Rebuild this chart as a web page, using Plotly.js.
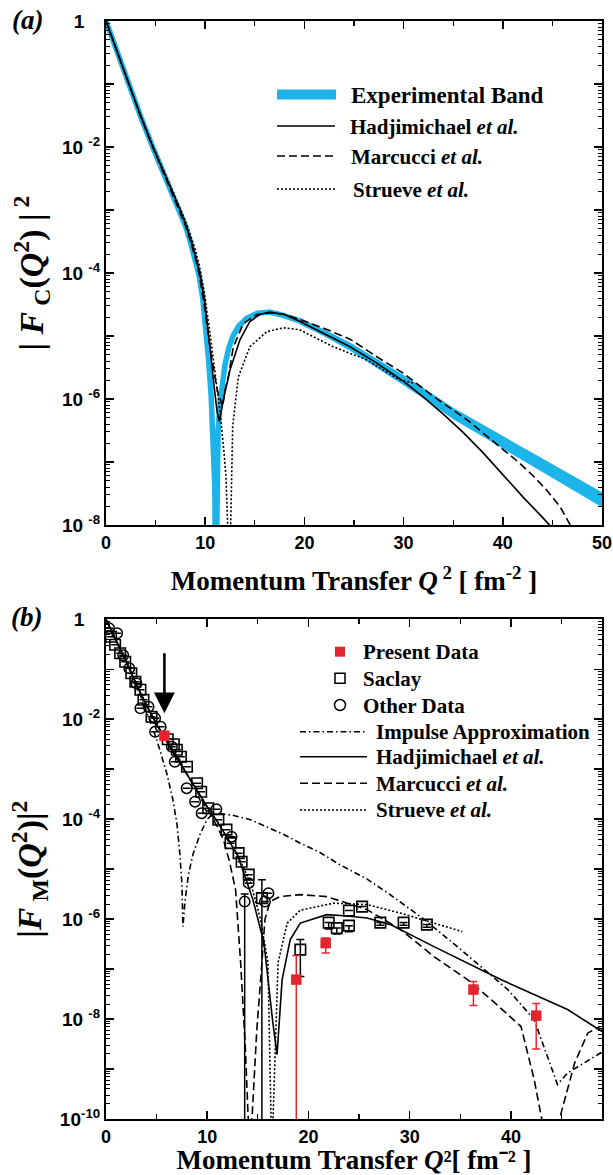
<!DOCTYPE html>
<html>
<head>
<meta charset="utf-8">
<script src="https://cdn.plot.ly/plotly-3.0.1.min.js"></script>
<style>
  html, body { margin: 0; padding: 0; background: #fff; }
  #chart { width: 613px; height: 1175px; }
</style>
</head>
<body>
<div id="chart"></div>
<script>
// ---------------- Panel (a): charge form factor ----------------
const bandX = [0, 0.5, 1.1, 2.3, 3.5, 4.7, 6.0, 7.4, 8.0, 8.5, 9.0, 9.4, 9.75, 10.1, 10.35, 10.6, 10.82, 10.97, 11.05, 11.13, 11.3, 11.5, 11.75, 12.0, 12.4, 12.8, 13.4, 14.2, 15.2, 16.5, 17.8, 19.5, 22.0, 24.6, 27.3, 30.0, 32.5, 35.0, 37.4, 39.7, 42.2, 44.8, 47.4, 50];
const bandY = [1, 0.603, 0.331, 0.1, 0.0302, 0.01, 3.31e-3, 1e-3, 5.62e-4, 3.16e-4, 1.66e-4, 8.91e-5, 3.98e-5, 1.26e-5, 3.98e-6, 1.12e-6, 2.51e-7, 3.98e-8, 3.16e-10, 3.98e-8, 3.16e-7, 8.91e-7, 2e-6, 3.55e-6, 6.61e-6, 1e-5, 1.45e-5, 1.91e-5, 2.29e-5, 2.4e-5, 2.14e-5, 1.74e-5, 1.12e-5, 6.76e-6, 3.72e-6, 2e-6, 1.1e-6, 5.89e-7, 3.55e-7, 2.19e-7, 1.29e-7, 7.41e-8, 4.37e-8, 2.51e-8];
const bandEdgeX = [19.5, 22.0, 24.6, 27.3, 30.0, 32.5, 35.0, 37.4, 39.7, 42.2, 44.8, 47.4, 50];
const bandUpper = [1.95e-5, 1.27e-5, 7.85e-6, 4.39e-6, 2.4e-6, 1.33e-6, 7.24e-7, 4.42e-7, 2.75e-7, 1.64e-7, 9.55e-8, 5.69e-8, 3.31e-8];
const bandLower = [1.55e-5, 9.89e-6, 5.82e-6, 3.15e-6, 1.66e-6, 9.02e-7, 4.79e-7, 2.85e-7, 1.74e-7, 1.01e-7, 5.75e-8, 3.35e-8, 1.91e-8];

const hadjTopX = [0, 0.5, 1.1, 2.3, 3.5, 4.7, 6.0, 7.4, 8.0, 8.5, 9.0, 9.4, 9.9, 10.4, 10.9, 11.2, 11.42, 11.82, 12.5, 13.5, 14.5, 15.5, 16.5, 18.0, 19.56, 22.0, 24.6, 27.3, 30.0, 32.0, 34.0, 36.0, 38.0, 40.0, 42.0, 44.0, 45.0, 46.0];
const hadjTopY = [1, 0.603, 0.331, 0.1, 0.0309, 0.0102, 3.47e-3, 1.07e-3, 6.03e-4, 3.55e-4, 1.91e-4, 1.07e-4, 3.98e-5, 8.91e-6, 1.58e-6, 6.31e-7, 4.37e-7, 9.55e-7, 2.88e-6, 8.71e-6, 1.7e-5, 2.19e-5, 2.4e-5, 2.19e-5, 1.7e-5, 1.1e-5, 6.76e-6, 3.72e-6, 1.91e-6, 1.07e-6, 5.75e-7, 2.95e-7, 1.41e-7, 6.31e-8, 2.82e-8, 1.32e-8, 8.91e-9, 5.62e-9];

const marcTopX = [0, 0.5, 1.1, 2.3, 3.5, 4.7, 6.0, 7.4, 8.0, 8.5, 9.0, 9.4, 9.9, 10.4, 10.9, 11.2, 11.5, 11.76, 12.0, 12.33, 12.84, 13.85, 15.19, 16.53, 18.0, 19.56, 22.0, 24.6, 27.3, 29.97, 33.0, 36.4, 39.7, 41.5, 43.0, 44.5, 45.77, 46.8, 47.5];
const marcTopY = [1, 0.603, 0.331, 0.1, 0.0302, 0.01, 3.31e-3, 1e-3, 5.75e-4, 3.24e-4, 1.74e-4, 9.55e-5, 3.16e-5, 7.94e-6, 2.51e-6, 1.41e-6, 1e-6, 7.59e-7, 1.41e-6, 2.24e-6, 6.76e-6, 1.58e-5, 2.19e-5, 2.34e-5, 2.19e-5, 1.82e-5, 1.32e-5, 8.91e-6, 4.68e-6, 2.57e-6, 1.1e-6, 4.68e-7, 1.74e-7, 1.02e-7, 6.17e-8, 3.47e-8, 1.95e-8, 1e-8, 5.62e-9];

const struTopX = [0, 0.5, 1.1, 2.3, 3.5, 4.7, 6.0, 7.4, 8.0, 8.5, 9.0, 9.4, 9.9, 10.48, 11.0, 11.49, 11.9, 12.1, 12.26, 12.4, 12.57, 12.77, 13.34, 14.51, 16.2, 17.88, 19.5, 22.9, 26.3, 29.6, 31.1];
const struTopY = [1, 0.603, 0.331, 0.1, 0.0316, 0.0107, 3.63e-3, 1.15e-3, 6.76e-4, 4.07e-4, 2.34e-4, 1.35e-4, 5.01e-5, 1.12e-5, 2.82e-6, 6.31e-7, 1.41e-7, 5.62e-8, 1e-8, 1e-10, 1e-8, 3.63e-7, 2.24e-6, 6.76e-6, 1.17e-5, 1.35e-5, 1.26e-5, 6.76e-6, 4.17e-6, 2e-6, 1.78e-6];

// ---------------- Panel (b): magnetic form factor ----------------
const iaX = [0, 1, 2, 3, 4, 5, 6, 6.6, 7.0, 7.3, 7.5, 7.6, 7.8, 8.15, 8.6, 9.3, 10.0, 10.5, 11.2, 12.5, 14.26, 15.9, 17.5, 19.2, 21, 23, 25.8, 28, 31.4, 34.7, 37.7, 39.7, 42.3, 44.6, 45.6, 49];
const iaY = [1, 0.398, 0.151, 0.0501, 0.0141, 3.98e-3, 8.32e-4, 2.51e-4, 8.32e-5, 2e-5, 5.01e-6, 7.08e-7, 2.24e-6, 7.94e-6, 2e-5, 5.01e-5, 1e-4, 1.23e-4, 1.29e-4, 1.2e-4, 9.77e-5, 7.08e-5, 5.01e-5, 3.31e-5, 2.24e-5, 1.26e-5, 6.31e-6, 3.16e-6, 1e-6, 2.82e-7, 8.51e-8, 3.89e-8, 9.77e-9, 4.9e-10, 8.32e-10, 2.19e-9];

const hadjBotX = [0, 1, 2, 3, 4, 5, 6, 7, 8, 9, 10, 11, 12, 13, 13.6, 14.5, 15.6, 16.0, 16.5, 16.9, 17.4, 18.2, 19.2, 21.8, 23.5, 25.8, 28.1, 32.4, 39.0, 45.6, 49];
const hadjBotY = [1, 0.38, 0.138, 0.0501, 0.0191, 7.94e-3, 3.55e-3, 1.66e-3, 7.94e-4, 3.72e-4, 1.78e-4, 8.91e-5, 4.17e-5, 1.91e-5, 8.51e-6, 2.51e-6, 3.39e-7, 6.17e-8, 7.94e-9, 1.95e-9, 6.17e-8, 3.89e-7, 8.32e-7, 1.23e-6, 1.17e-6, 1.05e-6, 7.76e-7, 2.82e-7, 6.17e-8, 1.55e-8, 5.62e-9];

const marcBotX = [0, 1, 2, 3, 4, 5, 6, 7, 8, 9, 10, 11, 11.6, 12.2, 12.8, 13.3, 13.76, 14.1, 14.25, 14.42, 14.9, 15.4, 15.7, 16.2, 17.2, 19.2, 21.8, 25.8, 29.1, 32.4, 35.7, 38.0, 40.3, 41.0, 42.3, 43.1, 44.0, 44.8, 46.3, 47.6, 48.6, 49];
const marcBotY = [1, 0.38, 0.138, 0.0501, 0.0191, 7.94e-3, 3.55e-3, 1.66e-3, 7.94e-4, 3.55e-4, 1.58e-4, 7.08e-5, 3.89e-5, 1.41e-5, 3.89e-6, 1.35e-7, 2.82e-9, 1e-10, 1e-11, 1e-10, 6.17e-9, 1.32e-7, 9.77e-7, 2.24e-6, 2.82e-6, 3.09e-6, 2.82e-6, 1.55e-6, 6.17e-7, 1.78e-7, 6.17e-8, 2.51e-8, 9.77e-9, 7.08e-9, 6.17e-10, 1e-10, 1e-11, 1e-10, 1.32e-9, 5.25e-9, 6.76e-9, 6.31e-9];

const struBotX = [0, 1, 2, 3, 4, 5, 6, 7, 8, 9, 10, 11, 12, 13, 14.3, 15.2, 16.0, 16.3, 16.4, 16.5, 17.0, 17.9, 19.2, 22.5, 25.8, 29.1, 32.4, 35.2];
const struBotY = [1, 0.38, 0.138, 0.0501, 0.0191, 7.94e-3, 3.55e-3, 1.66e-3, 7.94e-4, 3.72e-4, 1.78e-4, 8.91e-5, 4.17e-5, 1.91e-5, 5.25e-6, 1.12e-6, 1.35e-7, 1e-10, 1e-11, 1e-10, 1.35e-7, 8.32e-7, 1.51e-6, 2.09e-6, 1.95e-6, 1.32e-6, 8.32e-7, 5.62e-7];

// data points (value, upper bound, lower bound)
const presentX  = [5.77, 18.8, 21.7, 36.3, 42.5];
const presentY  = [4.68e-3, 6.17e-8, 3.31e-7, 3.89e-8, 1.17e-8];
const presentHi = [4.68e-3, 1.86e-7, 4.17e-7, 5.62e-8, 2.04e-8];
const presentLo = [4.68e-3, 1e-12, 2.09e-7, 1.86e-8, 2.51e-9];

const saclayX  = [0.5, 0.9, 1.4, 1.9, 2.5, 2.9, 3.4, 3.7, 4.5, 6.1, 6.7, 7.0, 7.4, 8.0, 9.0, 9.4, 10.1, 11.1, 11.9, 12.3, 13.1, 13.4, 14.1, 15.4, 19.2, 22.0, 22.8, 24.0, 24.0, 25.3, 27.1, 29.4, 31.7];
const saclayY  = [0.447, 0.309, 0.209, 0.141, 0.0832, 0.0562, 0.0389, 0.0245, 0.0112, 3.98e-3, 3.16e-3, 2.45e-3, 1.78e-3, 1.12e-3, 5.25e-4, 3.55e-4, 1.66e-4, 9.77e-5, 6.17e-5, 3.31e-5, 2.09e-5, 1.41e-5, 7.76e-6, 2.63e-6, 2.45e-7, 8.51e-7, 6.61e-7, 7.41e-7, 1.48e-6, 1.78e-6, 8.51e-7, 8.51e-7, 7.76e-7];
const saclayHi = [0.447, 0.309, 0.209, 0.141, 0.0832, 0.0562, 0.0389, 0.0245, 0.0112, 3.98e-3, 3.16e-3, 2.45e-3, 1.78e-3, 1.12e-3, 5.25e-4, 3.55e-4, 1.66e-4, 9.77e-5, 6.17e-5, 3.31e-5, 2.09e-5, 1.41e-5, 7.76e-6, 6.17e-6, 3.89e-7, 8.51e-7, 6.61e-7, 7.41e-7, 1.48e-6, 1.78e-6, 8.51e-7, 8.51e-7, 7.76e-7];
const saclayLo = [0.447, 0.309, 0.209, 0.141, 0.0832, 0.0562, 0.0389, 0.0245, 0.0112, 3.98e-3, 3.16e-3, 2.45e-3, 1.78e-3, 1.12e-3, 5.25e-4, 3.55e-4, 1.66e-4, 9.77e-5, 6.17e-5, 3.31e-5, 2.09e-5, 1.41e-5, 7.76e-6, 1e-12, 7.08e-8, 6.31e-7, 5.01e-7, 5.62e-7, 1.48e-6, 1.78e-6, 7.5e-7, 7.5e-7, 6.9e-7];

const otherX  = [0.3, 1.1, 1.7, 2.3, 3.0, 3.4, 4.2, 4.85, 4.85, 5.4, 6.5, 6.8, 7.97, 8.8, 9.45, 10.9, 12.4, 13.7, 14.1, 15.7, 16.05];
const otherY  = [0.661, 0.525, 0.191, 0.105, 0.0525, 0.0166, 0.0178, 0.0105, 5.62e-3, 7.08e-3, 2.82e-3, 1.41e-3, 4.17e-4, 2.24e-4, 1.32e-4, 1.58e-4, 4.47e-5, 2.24e-6, 5.25e-6, 2.24e-6, 3.31e-6];
const otherHi = [0.661, 0.525, 0.191, 0.105, 0.0525, 0.0166, 0.0178, 0.0105, 5.62e-3, 7.08e-3, 2.82e-3, 1.41e-3, 4.17e-4, 2.24e-4, 1.32e-4, 1.58e-4, 4.47e-5, 3.2e-6, 5.25e-6, 2.24e-6, 3.31e-6];
const otherLo = [0.661, 0.525, 0.191, 0.105, 0.0525, 0.0166, 0.0178, 0.0105, 5.62e-3, 7.08e-3, 2.82e-3, 1.41e-3, 4.17e-4, 2.24e-4, 1.32e-4, 1.58e-4, 4.47e-5, 1e-12, 5.25e-6, 2.24e-6, 3.31e-6];

const arrowX = 5.77, arrowTail = 0.224, arrowTip = 0.0132;

const NB = '\u00a0';
const yTicksTop = [1, 1e-1, 1e-2, 1e-3, 1e-4, 1e-5, 1e-6, 1e-7, 1e-8];
const yTextTop  = ['1' + NB + NB + NB, '', '10' + NB + '<sup>-2</sup>', '', '10' + NB + '<sup>-4</sup>', '', '10' + NB + '<sup>-6</sup>', '', '10' + NB + '<sup>-8</sup>'];
const yTicksBot = [1, 1e-1, 1e-2, 1e-3, 1e-4, 1e-5, 1e-6, 1e-7, 1e-8, 1e-9, 1e-10];
const yTextBot  = ['1' + NB + NB + NB, '', '10' + NB + '<sup>-2</sup>', '', '10' + NB + '<sup>-4</sup>', '', '10' + NB + '<sup>-6</sup>', '', '10' + NB + '<sup>-8</sup>', '', '10<sup>-10</sup>'];

// ---------------- styling ----------------
const BLUE = '#1db4ea', RED = '#e2262e';
const LW = 1.6;
const DASH = '8px,4px', DOT = '2px,2px', DASHDOT = '6px,3px,1.5px,3px';

function diff(a, b) { return a.map((v, i) => v - b[i]); }

const traces = [
  {x: bandEdgeX, y: bandLower, xaxis: 'x', yaxis: 'y', mode: 'lines', line: {color: BLUE, width: 0}, hoverinfo: 'skip'},
  {x: bandEdgeX, y: bandUpper, xaxis: 'x', yaxis: 'y', mode: 'lines', line: {color: BLUE, width: 0}, fill: 'tonexty', fillcolor: BLUE, hoverinfo: 'skip'},
  {x: bandX, y: bandY, xaxis: 'x', yaxis: 'y', mode: 'lines', line: {color: BLUE, width: 5.5}},
  {x: hadjTopX, y: hadjTopY, xaxis: 'x', yaxis: 'y', mode: 'lines', line: {color: '#000', width: LW}},
  {x: marcTopX, y: marcTopY, xaxis: 'x', yaxis: 'y', mode: 'lines', line: {color: '#000', width: LW, dash: DASH}},
  {x: struTopX, y: struTopY, xaxis: 'x', yaxis: 'y', mode: 'lines', line: {color: '#000', width: LW, dash: DOT}},
  {x: iaX, y: iaY, xaxis: 'x2', yaxis: 'y2', mode: 'lines', line: {color: '#000', width: LW, dash: DASHDOT}},
  {x: hadjBotX, y: hadjBotY, xaxis: 'x2', yaxis: 'y2', mode: 'lines', line: {color: '#000', width: LW}},
  {x: marcBotX, y: marcBotY, xaxis: 'x2', yaxis: 'y2', mode: 'lines', line: {color: '#000', width: LW, dash: DASH}},
  {x: struBotX, y: struBotY, xaxis: 'x2', yaxis: 'y2', mode: 'lines', line: {color: '#000', width: LW, dash: DOT}},
  {x: otherX, y: otherY, xaxis: 'x2', yaxis: 'y2', mode: 'markers',
   marker: {symbol: 'circle-open', size: 10.5, color: '#000', line: {width: 1.5, color: '#000'}},
   error_y: {type: 'data', symmetric: false, array: diff(otherHi, otherY), arrayminus: diff(otherY, otherLo), color: '#000', thickness: 1.5, width: 4}},
  {x: saclayX, y: saclayY, xaxis: 'x2', yaxis: 'y2', mode: 'markers',
   marker: {symbol: 'square-open', size: 10.5, color: '#000', line: {width: 1.6, color: '#000'}},
   error_y: {type: 'data', symmetric: false, array: diff(saclayHi, saclayY), arrayminus: diff(saclayY, saclayLo), color: '#000', thickness: 1.5, width: 4}},
  {x: presentX, y: presentY, xaxis: 'x2', yaxis: 'y2', mode: 'markers',
   marker: {symbol: 'square', size: 10.5, color: RED},
   error_y: {type: 'data', symmetric: false, array: diff(presentHi, presentY), arrayminus: diff(presentY, presentLo), color: RED, thickness: 1.5, width: 4}}
];
traces.forEach(t => t.showlegend = false);

// layout helpers (page pixel -> paper)
const L = 106, R = 602, T = 21, B = 1119;
const PX = p => (p - L) / (R - L);
const PY = p => (B - p) / (B - T);

const tickFont = {family: 'Liberation Sans, Arial, sans-serif', size: 18, color: '#000', weight: 'bold'};
const yTickFont = {family: 'Liberation Sans, Arial, sans-serif', size: 19, color: '#000', weight: 'bold'};
const titleFont = {family: 'Liberation Serif, Times New Roman, serif', size: 27, color: '#000', weight: 'bold'};
const legFont = {family: 'Liberation Serif, Times New Roman, serif', size: 21, color: '#000', weight: 'bold'};

function xAxis(range, anchor, standoff, title, size) {
  return {
    range: range, anchor: anchor, domain: [0, 1],
    showline: true, linewidth: 2, linecolor: '#000', mirror: 'ticks',
    ticks: 'inside', ticklen: 8, tickwidth: 1.5, tickcolor: '#000',
    tickmode: 'linear', tick0: 0, dtick: 10,
    minor: {ticks: 'inside', ticklen: 5, tickwidth: 1.2, tickcolor: '#000', dtick: 5, tick0: 0, showgrid: false},
    showgrid: false, zeroline: false, tickfont: tickFont, automargin: false,
    title: {text: title, font: Object.assign({}, titleFont, {size: size}), standoff: standoff}
  };
}
function yAxis(range, anchor, domain, vals, text, title) {
  return {
    type: 'log', range: range, anchor: anchor, domain: domain,
    showline: true, linewidth: 2, linecolor: '#000', mirror: 'ticks',
    ticks: 'inside', ticklen: 8, tickwidth: 1.5, tickcolor: '#000',
    tickmode: 'array', tickvals: vals, ticktext: text,
    minor: {ticks: 'inside', ticklen: 4, tickwidth: 1, tickcolor: '#000', dtick: 'D1', showgrid: false},
    showgrid: false, zeroline: false, tickfont: yTickFont, automargin: false,
    title: {text: title, font: Object.assign({}, titleFont, {size: 34}), standoff: 8}
  };
}

const shapes = [];
const annotations = [];
function legLine(x0, x1, y, line) {
  shapes.push({type: 'line', xref: 'paper', yref: 'paper', x0: PX(x0), x1: PX(x1), y0: PY(y), y1: PY(y), line: line});
}
function legText(x, y, text, size) {
  annotations.push({xref: 'paper', yref: 'paper', x: PX(x), y: PY(y), xanchor: 'left', yanchor: 'middle',
    text: text, showarrow: false, font: Object.assign({}, legFont, size ? {size: size} : {})});
}
legLine(277, 336, 94.5, {color: BLUE, width: 10});
legText(349, 95, 'Experimental Band', 23);
legLine(277, 335, 126, {color: '#000', width: LW});
legText(348, 127, 'Hadjimichael <i>et al.</i>');
legLine(277, 335, 156, {color: '#000', width: LW, dash: DASH});
legText(349, 157, 'Marcucci <i>et al.</i>');
legLine(277, 335, 189, {color: '#000', width: LW, dash: DOT});
legText(351, 190, 'Strueve <i>et al.</i>');
shapes.push({type: 'rect', xref: 'paper', yref: 'paper', xsizemode: 'pixel', ysizemode: 'pixel',
  xanchor: PX(340), yanchor: PY(651.7), x0: -5, x1: 5, y0: -5, y1: 5, fillcolor: RED, line: {width: 0}});
shapes.push({type: 'rect', xref: 'paper', yref: 'paper', xsizemode: 'pixel', ysizemode: 'pixel',
  xanchor: PX(340), yanchor: PY(678.3), x0: -5, x1: 5, y0: -5, y1: 5, line: {width: 1.5, color: '#000'}});
shapes.push({type: 'circle', xref: 'paper', yref: 'paper', xsizemode: 'pixel', ysizemode: 'pixel',
  xanchor: PX(340), yanchor: PY(705), x0: -5.5, x1: 5.5, y0: -5.5, y1: 5.5, line: {width: 1.5, color: '#000'}});
legText(361, 652, 'Present Data');
legText(361, 679, 'Saclay');
legText(361, 705.5, 'Other Data');
legLine(300, 367, 731.7, {color: '#000', width: LW, dash: DASHDOT});
legText(374, 732, 'Impulse Approximation');
legLine(300, 367, 756.7, {color: '#000', width: LW});
legText(374, 757, 'Hadjimichael <i>et al.</i>');
legLine(300, 367, 783.3, {color: '#000', width: LW, dash: DASH});
legText(374, 783.5, 'Marcucci <i>et al.</i>');
legLine(300, 367, 810, {color: '#000', width: LW, dash: DOT});
legText(374, 810, 'Strueve <i>et al.</i>');

const panelFont = {family: 'Liberation Serif, Times New Roman, serif', size: 27, color: '#000', weight: 'bold'};
annotations.push({xref: 'paper', yref: 'paper', x: PX(27), y: PY(20), xanchor: 'center', yanchor: 'middle', text: '<i>(a)</i>', showarrow: false, font: panelFont});
annotations.push({xref: 'paper', yref: 'paper', x: PX(26), y: PY(617), xanchor: 'center', yanchor: 'middle', text: '<i>(b)</i>', showarrow: false, font: panelFont});

annotations.push({xref: 'x2', yref: 'y2', axref: 'x2', ayref: 'y2',
  x: arrowX, y: Math.log10(arrowTip), ax: arrowX, ay: Math.log10(arrowTail),
  text: '', showarrow: true, arrowhead: 2, arrowsize: 1.6, arrowwidth: 2.6, arrowcolor: '#000', standoff: 0, startstandoff: 0});

const layout = {
  width: 613, height: 1175,
  margin: {l: L, r: 613 - R, t: T, b: 1175 - B, pad: 0},
  paper_bgcolor: '#fff', plot_bgcolor: '#fff',
  showlegend: false,
  xaxis: xAxis([0, 50], 'y', 20, 'Momentum Transfer <i>Q</i><sup> 2</sup> [ fm<sup>-2</sup> ]', 27),
  yaxis: yAxis([-8, 0], 'x', [PY(525), 1], yTicksTop, yTextTop, '| <i>F</i><sub> C</sub>(<i>Q</i><sup>2</sup>) |<sup> 2</sup>'),
  xaxis2: xAxis([0, 49], 'y2', 12, 'Momentum Transfer <i>Q</i>\u00b2[ fm\u207b\u00b2 ]', 27),
  yaxis2: yAxis([-10, 0], 'x2', [0, PY(619.3)], yTicksBot, yTextBot, '|<i>F</i><sub> M</sub>(<i>Q</i><sup>2</sup>)|<sup>2</sup>'),
  shapes: shapes,
  annotations: annotations
};

Plotly.newPlot('chart', traces, layout, {staticPlot: true, displayModeBar: false});
</script>
</body>
</html>
